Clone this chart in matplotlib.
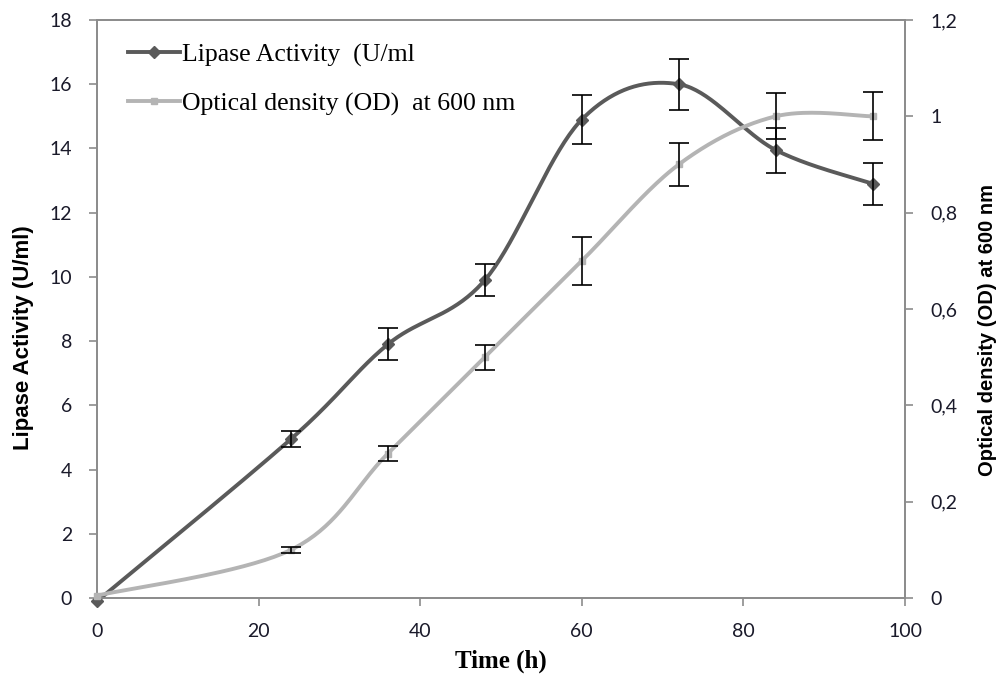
import numpy as np
import matplotlib
matplotlib.use("Agg")
import matplotlib.pyplot as plt
from matplotlib.lines import Line2D
from matplotlib.ticker import FuncFormatter

# data
time_h = [0, 24, 36, 48, 60, 72, 84, 96]
lipase = [-0.1, 4.95, 7.9, 9.9, 14.9, 16.0, 13.95, 12.9]
lipase_err = [0, 0.25, 0.5, 0.5, 0.75, 0.8, 0.7, 0.65]
od = [0.005, 0.1, 0.3, 0.5, 0.7, 0.9, 1.0, 1.0]
od_err = [0, 0.006, 0.015, 0.026, 0.05, 0.044, 0.048, 0.05]

lipase_label = "Lipase Activity  (U/ml"
od_label = "Optical density (OD)  at 600 nm"

dark = "#5a5a5a"
light = "#b4b4b4"
axis_col = "#8c8c8c"


def smooth(ax, xs, ys, n=40):
    # excel-like smoothed line: cubic bezier through the points, done in pixel space
    pts = ax.transData.transform(np.column_stack([xs, ys]))
    out = [pts[0]]
    for i in range(len(pts) - 1):
        p0 = pts[i - 1] if i > 0 else pts[i]
        p1 = pts[i]
        p2 = pts[i + 1]
        p3 = pts[i + 2] if i + 2 < len(pts) else pts[i + 1]
        c1 = p1 + (p2 - p0) / 6.0
        c2 = p2 - (p3 - p1) / 6.0
        t = np.linspace(0, 1, n)[1:, None]
        seg = ((1 - t) ** 3) * p1 + 3 * ((1 - t) ** 2) * t * c1 + 3 * (1 - t) * t ** 2 * c2 + t ** 3 * p2
        out.extend(seg)
    out = ax.transData.inverted().transform(np.array(out))
    return out[:, 0], out[:, 1]


fig = plt.figure(figsize=(9.98, 6.84), dpi=100)
ax = fig.add_axes([0.0972, 0.1257, 0.8096, 0.8451])
ax2 = ax.twinx()

ax.set_xlim(0, 100)
ax.set_ylim(0, 18)
ax2.set_ylim(0, 1.2)

tick_font = dict(family=["Lato", "DejaVu Sans"], size=14)
ax.set_xticks(range(0, 101, 20))
ax.set_yticks(range(0, 19, 2))
ax2.set_yticks([0, 0.2, 0.4, 0.6, 0.8, 1.0, 1.2])
ax2.yaxis.set_major_formatter(FuncFormatter(lambda v, p: ("%g" % round(v, 1)).replace(".", ",")))
for a in (ax, ax2):
    for lab in a.get_xticklabels() + a.get_yticklabels():
        lab.set_fontproperties(matplotlib.font_manager.FontProperties(**tick_font))
        lab.set_color("#1a1a2a")
    a.tick_params(length=6, width=1.2, color=axis_col)
    for s in a.spines.values():
        s.set_color(axis_col)
        s.set_linewidth(1.3)
ax.tick_params(axis="x", pad=12)
ax.tick_params(axis="y", pad=12)
ax2.tick_params(axis="y", pad=12)

fig.canvas.draw()

sx, sy = smooth(ax, time_h, lipase)
ax.plot(sx, sy, color=dark, lw=2.8, zorder=3, solid_capstyle="round")
ax.plot(time_h, lipase, "D", color=dark, ms=6.5, zorder=4)
ax.errorbar(time_h[1:], lipase[1:], yerr=lipase_err[1:], fmt="none", ecolor="black",
            elinewidth=1.2, capsize=7, capthick=1.2, zorder=6)

ox, oy = smooth(ax2, time_h, od)
ax2.plot(ox, oy, color=light, lw=2.8, zorder=3, solid_capstyle="round")
ax2.plot(time_h, od, "s", color=light, ms=4.5, zorder=4)
ax2.errorbar(time_h[1:], od[1:], yerr=od_err[1:], fmt="none", ecolor="black",
             elinewidth=1.2, capsize=7, capthick=1.2, zorder=6)

for a in (ax, ax2):
    for art in a.lines:
        art.set_clip_on(False)

ax.set_xlabel("Time (h)", family="Liberation Serif", weight="bold", size=18)
ax.xaxis.set_label_coords(0.5, -0.09)
ax.set_ylabel("Lipase Activity (U/ml)", family=["Liberation Sans Narrow", "Liberation Sans"],
              weight="bold", size=16)
ax.yaxis.set_label_coords(-0.078, 0.45)
ax2.set_ylabel(od_label.replace("  ", " "), family=["Liberation Sans Narrow", "Liberation Sans"],
               weight="bold", size=14.5, rotation=90, va="top", ha="center")
ax2.yaxis.set_label_coords(1.09, 0.464)

handles = [Line2D([], [], color=dark, lw=2.8, marker="D", ms=6),
           Line2D([], [], color=light, lw=2.8, marker="s", ms=4.5)]
ax.legend(handles, [lipase_label, od_label], loc="upper left", bbox_to_anchor=(0.01, 1.0),
          frameon=False, prop=dict(family="Liberation Serif", size=18.5), handlelength=2.0,
          handletextpad=0.1, labelspacing=1.0, markerfirst=True)

fig.savefig("out.png", dpi=100)
